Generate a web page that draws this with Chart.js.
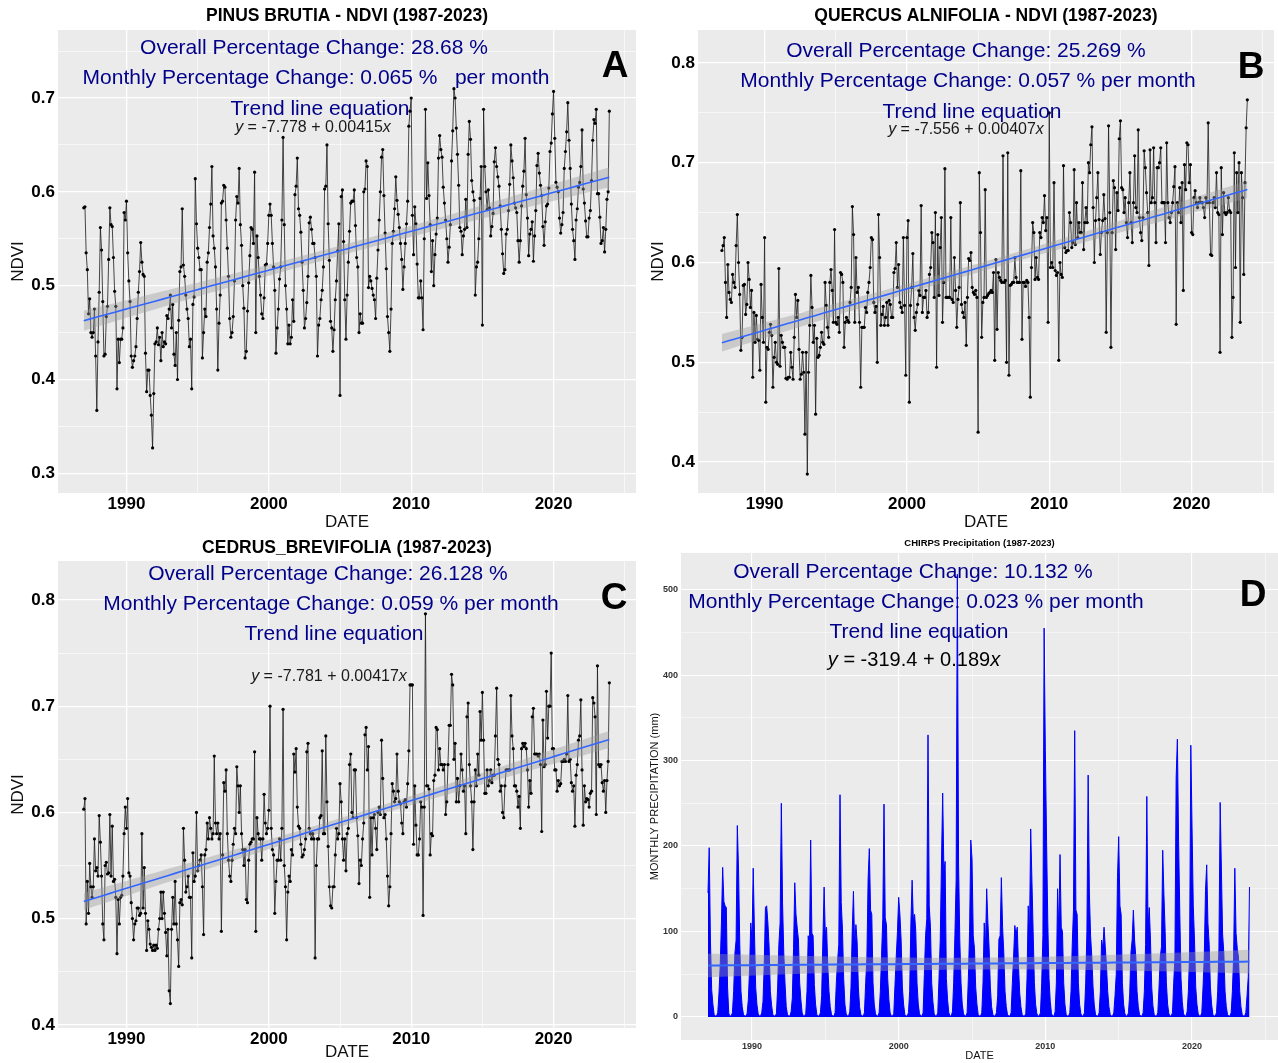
<!DOCTYPE html>
<html>
<head>
<meta charset="utf-8">
<script src="https://cdn.jsdelivr.net/npm/chart.js@4.4.1/dist/chart.umd.min.js"></script>
<style>
  body { margin: 0; background: #fff; width: 1278px; height: 1063px; position: relative; overflow: hidden; }
  canvas { position: absolute; }
</style>
</head>
<body>
<canvas id="cA" width="640" height="535" style="left:0;top:0"></canvas>
<canvas id="cB" width="638" height="535" style="left:640px;top:0"></canvas>
<canvas id="cC" width="640" height="528" style="left:0;top:535px"></canvas>
<canvas id="cD" width="638" height="528" style="left:640px;top:535px"></canvas>
<script>
// monthly series, Jan 1987 .. Dec 2023, one row per year
const startYear = 1987;

const pinusNdvi = [
  0.583,0.584,0.535,0.517,0.470,0.486,0.450,0.445,0.450,0.475,0.425,0.367,
  0.440,0.493,0.562,0.538,0.483,0.425,0.427,0.467,0.478,0.528,0.583,0.565,
  0.563,0.530,0.494,0.478,0.390,0.443,0.418,0.443,0.443,0.455,0.578,0.570,
  0.590,0.535,0.505,0.483,0.425,0.413,0.420,0.425,0.435,0.465,0.493,0.515,
  0.546,0.525,0.512,0.510,0.428,0.387,0.410,0.410,0.383,0.362,0.327,0.385,
  0.438,0.440,0.455,0.437,0.445,0.420,0.450,0.435,0.440,0.438,0.468,0.465,
  0.475,0.490,0.455,0.480,0.427,0.415,0.450,0.400,0.463,0.515,0.520,0.582,
  0.522,0.510,0.490,0.475,0.465,0.435,0.443,0.390,0.480,0.488,0.614,0.566,
  0.540,0.530,0.517,0.517,0.423,0.450,0.475,0.467,0.525,0.535,0.562,0.587,
  0.627,0.553,0.540,0.520,0.475,0.410,0.460,0.490,0.588,0.590,0.607,0.605,
  0.570,0.540,0.510,0.465,0.445,0.450,0.467,0.505,0.570,0.595,0.588,0.625,
  0.565,0.543,0.500,0.476,0.423,0.430,0.473,0.503,0.532,0.562,0.560,0.545,
  0.621,0.450,0.553,0.530,0.510,0.490,0.470,0.465,0.487,0.522,0.523,0.545,
  0.575,0.587,0.575,0.545,0.520,0.495,0.428,0.455,0.475,0.507,0.520,0.570,
  0.658,0.565,0.500,0.475,0.438,0.458,0.438,0.445,0.485,0.462,0.597,0.606,
  0.636,0.582,0.575,0.557,0.525,0.495,0.455,0.465,0.482,0.510,0.567,0.573,
  0.560,0.545,0.545,0.530,0.510,0.425,0.458,0.465,0.485,0.495,0.520,0.603,
  0.606,0.650,0.566,0.527,0.462,0.455,0.430,0.453,0.485,0.505,0.537,0.566,
  0.383,0.595,0.602,0.547,0.485,0.443,0.490,0.525,0.558,0.588,0.590,0.590,
  0.602,0.564,0.530,0.520,0.450,0.470,0.460,0.460,0.600,0.603,0.633,0.627,
  0.498,0.510,0.505,0.497,0.490,0.485,0.465,0.508,0.538,0.570,0.600,0.637,
  0.645,0.596,0.556,0.518,0.467,0.450,0.430,0.475,0.545,0.558,0.582,0.616,
  0.591,0.576,0.562,0.545,0.528,0.496,0.520,0.545,0.566,0.590,0.670,0.686,
  0.700,0.575,0.533,0.584,0.566,0.523,0.487,0.487,0.505,0.487,0.453,0.550,
  0.688,0.593,0.631,0.596,0.565,0.515,0.548,0.500,0.533,0.555,0.572,0.636,
  0.660,0.645,0.637,0.605,0.588,0.570,0.550,0.525,0.541,0.565,0.633,0.665,
  0.710,0.700,0.668,0.640,0.607,0.562,0.558,0.533,0.553,0.560,0.592,0.562,
  0.640,0.675,0.656,0.612,0.600,0.591,0.490,0.520,0.525,0.550,0.593,0.627,
  0.458,0.688,0.627,0.600,0.581,0.602,0.583,0.553,0.563,0.577,0.632,0.647,
  0.627,0.616,0.606,0.585,0.560,0.534,0.513,0.517,0.555,0.560,0.580,0.608,
  0.650,0.633,0.615,0.588,0.583,0.578,0.548,0.525,0.548,0.585,0.606,0.622,
  0.657,0.597,0.572,0.532,0.555,0.560,0.568,0.526,0.553,0.580,0.628,0.641,
  0.620,0.607,0.596,0.563,0.543,0.568,0.585,0.587,0.604,0.643,0.652,0.683,
  0.707,0.657,0.610,0.605,0.600,0.572,0.556,0.565,0.578,0.625,0.643,0.664,
  0.695,0.655,0.625,0.587,0.560,0.548,0.528,0.570,0.582,0.605,0.610,0.627,
  0.666,0.603,0.588,0.569,0.552,0.552,0.572,0.580,0.612,0.655,0.677,0.673,
  0.688,0.598,0.598,0.573,0.545,0.548,0.562,0.536,0.560,0.592,0.600,0.686
];

const quercusNdvi = [
  0.612,0.617,0.625,0.580,0.545,0.598,0.570,0.563,0.560,0.588,0.580,0.575,
  0.617,0.648,0.600,0.568,0.512,0.525,0.577,0.578,0.548,0.558,0.600,0.583,
  0.555,0.572,0.485,0.550,0.520,0.547,0.523,0.522,0.492,0.578,0.545,0.520,
  0.625,0.460,0.515,0.513,0.530,0.538,0.527,0.475,0.505,0.520,0.500,0.498,
  0.594,0.496,0.527,0.520,0.515,0.515,0.484,0.483,0.485,0.485,0.510,0.495,
  0.483,0.525,0.568,0.545,0.562,0.513,0.483,0.488,0.510,0.490,0.428,0.510,
  0.388,0.490,0.537,0.587,0.555,0.520,0.537,0.448,0.524,0.505,0.507,0.515,
  0.530,0.520,0.518,0.580,0.557,0.535,0.525,0.580,0.593,0.572,0.540,0.633,
  0.540,0.538,0.545,0.530,0.590,0.588,0.580,0.515,0.540,0.545,0.542,0.540,
  0.560,0.575,0.656,0.628,0.540,0.605,0.570,0.575,0.540,0.475,0.535,0.535,
  0.535,0.555,0.550,0.570,0.580,0.595,0.625,0.623,0.560,0.550,0.556,0.500,
  0.648,0.605,0.537,0.548,0.556,0.537,0.545,0.560,0.537,0.562,0.558,0.545,
  0.545,0.590,0.594,0.620,0.575,0.598,0.560,0.555,0.550,0.625,0.557,0.487,
  0.625,0.642,0.460,0.557,0.575,0.609,0.545,0.532,0.550,0.558,0.572,0.567,
  0.657,0.550,0.565,0.565,0.572,0.545,0.550,0.588,0.595,0.630,0.620,0.565,
  0.650,0.495,0.628,0.567,0.615,0.645,0.540,0.580,0.694,0.565,0.565,0.565,
  0.565,0.645,0.563,0.560,0.605,0.572,0.535,0.563,0.575,0.660,0.558,0.550,
  0.545,0.560,0.517,0.565,0.604,0.602,0.610,0.575,0.570,0.568,0.572,0.565,
  0.430,0.690,0.630,0.525,0.560,0.565,0.673,0.565,0.567,0.569,0.570,0.572,
  0.570,0.590,0.502,0.603,0.533,0.590,0.585,0.582,0.580,0.707,0.580,0.582,
  0.500,0.710,0.487,0.577,0.578,0.580,0.580,0.605,0.585,0.580,0.580,0.580,
  0.692,0.523,0.580,0.580,0.576,0.582,0.580,0.545,0.465,0.595,0.640,0.630,
  0.583,0.605,0.585,0.583,0.630,0.625,0.645,0.640,0.667,0.632,0.645,0.540,
  0.750,0.595,0.600,0.595,0.680,0.592,0.587,0.590,0.502,0.600,0.588,0.585,
  0.697,0.615,0.610,0.612,0.612,0.650,0.640,0.615,0.620,0.693,0.618,0.660,
  0.625,0.640,0.630,0.630,0.680,0.613,0.640,0.655,0.640,0.700,0.690,0.718,
  0.736,0.655,0.600,0.642,0.665,0.690,0.643,0.608,0.630,0.642,0.668,0.644,
  0.530,0.630,0.737,0.650,0.515,0.630,0.682,0.675,0.613,0.670,0.652,0.724,
  0.742,0.675,0.673,0.650,0.665,0.640,0.625,0.660,0.690,0.640,0.620,0.660,
  0.707,0.655,0.650,0.733,0.645,0.630,0.622,0.645,0.712,0.695,0.670,0.650,
  0.597,0.713,0.660,0.665,0.715,0.660,0.620,0.695,0.695,0.700,0.715,0.660,
  0.660,0.660,0.620,0.720,0.660,0.645,0.640,0.650,0.660,0.676,0.696,0.538,
  0.660,0.650,0.675,0.640,0.680,0.572,0.698,0.673,0.720,0.718,0.680,0.698,
  0.630,0.628,0.665,0.672,0.660,0.655,0.660,0.665,0.660,0.660,0.655,0.645,
  0.665,0.660,0.740,0.660,0.608,0.607,0.660,0.665,0.655,0.690,0.650,0.648,
  0.510,0.695,0.628,0.670,0.650,0.648,0.650,0.665,0.652,0.650,0.525,0.565,
  0.710,0.595,0.690,0.650,0.700,0.540,0.690,0.665,0.588,0.680,0.735,0.763
];

const cedrusNdvi = [
  0.603,0.613,0.495,0.535,0.505,0.552,0.530,0.520,0.530,0.575,0.545,0.548,
  0.540,0.597,0.572,0.540,0.495,0.480,0.550,0.553,0.542,0.543,0.598,0.540,
  0.587,0.535,0.537,0.520,0.467,0.518,0.495,0.520,0.522,0.540,0.580,0.605,
  0.585,0.613,0.543,0.540,0.515,0.500,0.480,0.495,0.498,0.510,0.510,0.503,
  0.505,0.580,0.510,0.548,0.505,0.470,0.498,0.490,0.476,0.473,0.470,0.475,
  0.470,0.475,0.472,0.490,0.500,0.525,0.500,0.525,0.505,0.487,0.465,0.490,
  0.432,0.420,0.490,0.520,0.495,0.535,0.495,0.480,0.455,0.515,0.518,0.513,
  0.585,0.555,0.525,0.530,0.540,0.520,0.520,0.463,0.562,0.535,0.540,0.600,
  0.545,0.550,0.555,0.560,0.530,0.485,0.560,0.565,0.590,0.575,0.595,0.585,
  0.575,0.580,0.653,0.590,0.580,0.590,0.575,0.580,0.488,0.560,0.628,0.620,
  0.640,0.580,0.555,0.540,0.535,0.555,0.570,0.585,0.580,0.643,0.625,0.600,
  0.625,0.580,0.565,0.550,0.565,0.518,0.515,0.555,0.570,0.572,0.575,0.575,
  0.657,0.488,0.595,0.580,0.575,0.575,0.555,0.575,0.617,0.590,0.580,0.585,
  0.602,0.700,0.585,0.565,0.560,0.505,0.535,0.555,0.555,0.575,0.555,0.585,
  0.697,0.550,0.530,0.480,0.525,0.540,0.535,0.565,0.560,0.655,0.638,0.660,
  0.605,0.587,0.585,0.570,0.558,0.560,0.565,0.575,0.657,0.665,0.585,0.580,
  0.575,0.580,0.575,0.463,0.550,0.575,0.575,0.595,0.597,0.658,0.580,0.580,
  0.672,0.610,0.568,0.530,0.512,0.510,0.530,0.530,0.560,0.585,0.575,0.580,
  0.627,0.610,0.575,0.555,0.575,0.545,0.580,0.585,0.645,0.655,0.600,0.595,
  0.640,0.640,0.595,0.578,0.533,0.555,0.550,0.575,0.590,0.673,0.680,0.640,
  0.662,0.520,0.595,0.560,0.595,0.598,0.585,0.565,0.600,0.605,0.598,0.668,
  0.632,0.595,0.598,0.575,0.540,0.512,0.530,0.580,0.627,0.620,0.610,0.613,
  0.655,0.620,0.610,0.608,0.590,0.580,0.610,0.612,0.605,0.627,0.658,0.720,
  0.720,0.720,0.570,0.625,0.588,0.560,0.560,0.575,0.610,0.605,0.503,0.605,
  0.787,0.625,0.625,0.622,0.560,0.580,0.578,0.630,0.635,0.680,0.678,0.640,
  0.660,0.645,0.645,0.640,0.645,0.598,0.610,0.645,0.682,0.682,0.730,0.720,
  0.650,0.665,0.610,0.632,0.610,0.625,0.655,0.640,0.620,0.625,0.580,0.690,
  0.703,0.645,0.625,0.610,0.565,0.610,0.640,0.625,0.655,0.635,0.695,0.668,
  0.713,0.668,0.618,0.618,0.640,0.625,0.630,0.640,0.628,0.635,0.635,0.672,
  0.717,0.650,0.645,0.620,0.625,0.600,0.595,0.625,0.640,0.640,0.640,0.640,
  0.710,0.672,0.660,0.625,0.625,0.620,0.605,0.615,0.585,0.660,0.665,0.662,
  0.665,0.660,0.640,0.605,0.630,0.618,0.690,0.698,0.655,0.655,0.655,0.653,
  0.655,0.645,0.582,0.687,0.643,0.645,0.714,0.670,0.700,0.700,0.750,0.660,
  0.660,0.640,0.640,0.620,0.630,0.625,0.627,0.648,0.648,0.650,0.648,0.655,
  0.710,0.648,0.650,0.628,0.620,0.625,0.587,0.635,0.645,0.668,0.672,0.706,
  0.640,0.588,0.625,0.610,0.613,0.612,0.605,0.618,0.620,0.708,0.703,0.690,
  0.598,0.738,0.645,0.643,0.645,0.628,0.620,0.630,0.600,0.630,0.648,0.722
];

const chirpsPrecip = [
  145,198,90,32,15,3,1,1,5,28,60,110,
  175,135,130,128,35,4,1,1,5,30,74,90,
  224,172,85,30,12,3,1,1,4,20,55,110,
  88,174,100,35,15,4,1,1,5,18,60,128,
  130,110,82,30,14,3,1,1,4,35,85,110,
  250,133,75,40,12,3,1,1,6,22,80,157,
  120,104,90,40,20,5,1,1,4,30,95,80,
  207,98,95,38,15,3,1,1,5,25,90,152,
  95,105,60,30,12,3,1,1,5,40,65,85,
  260,134,103,45,15,4,1,1,6,35,100,147,
  80,108,88,35,12,3,1,1,5,40,70,162,
  197,125,120,40,15,4,1,1,5,30,72,115,
  249,116,108,45,20,5,1,1,4,38,70,100,
  140,120,90,35,15,3,1,1,5,30,110,160,
  113,120,100,40,15,4,1,1,5,50,95,115,
  330,130,105,40,18,4,1,1,5,45,90,180,
  262,170,182,45,20,5,1,1,6,40,95,160,
  518,179,90,40,15,4,1,1,5,45,100,207,
  185,95,80,35,15,3,1,1,5,40,110,80,
  150,110,80,35,12,3,1,1,5,25,91,95,
  163,105,75,30,12,3,1,1,5,40,70,107,
  95,105,60,28,12,3,1,1,4,45,130,95,
  220,160,100,40,15,4,1,1,5,40,95,455,
  312,205,110,45,18,4,1,1,6,40,150,100,
  190,105,100,40,15,3,1,1,5,30,85,125,
  335,125,120,40,15,4,1,1,5,40,100,283,
  145,95,70,35,14,3,1,1,5,30,90,80,
  105,82,60,30,12,3,1,1,5,25,50,163,
  211,130,120,40,15,4,1,1,5,27,75,90,
  125,90,70,30,12,3,1,1,5,30,85,258,
  105,128,90,35,13,3,1,1,5,35,70,82,
  195,143,100,40,15,4,1,1,5,40,70,280,
  325,205,120,45,18,4,1,1,6,30,75,318,
  222,130,90,35,15,4,1,1,5,35,70,148,
  178,110,85,35,15,3,1,1,5,30,80,251,
  173,97,75,30,12,3,1,1,5,30,70,174,
  98,80,70,30,12,3,1,1,5,25,47,152
];

const FONT = "'Liberation Sans', Arial, Helvetica, sans-serif";
const NOTE_BLUE = '#00008B';

function monthlyPoints(values) {
  return values.map((v, i) => ({ x: startYear + i / 12, y: v }));
}

// least squares line with 95% confidence band (like geom_smooth(method = "lm"))
function trendBand(pts, steps) {
  const n = pts.length;
  const mx = pts.reduce((s, p) => s + p.x, 0) / n;
  const my = pts.reduce((s, p) => s + p.y, 0) / n;
  let sxx = 0, sxy = 0;
  pts.forEach(p => { sxx += (p.x - mx) ** 2; sxy += (p.x - mx) * (p.y - my); });
  const b = sxy / sxx, a = my - b * mx;
  let sse = 0;
  pts.forEach(p => { sse += (p.y - a - b * p.x) ** 2; });
  const s = Math.sqrt(sse / (n - 2));
  const t = 1.9654;
  const x0 = pts[0].x, x1 = pts[n - 1].x;
  const line = [], upper = [], lower = [];
  for (let k = 0; k <= steps; k++) {
    const x = x0 + (x1 - x0) * k / steps;
    const yh = a + b * x;
    const se = s * Math.sqrt(1 / n + (x - mx) ** 2 / sxx);
    line.push({ x, y: yh });
    upper.push({ x, y: yh + t * se });
    lower.push({ x, y: yh - t * se });
  }
  return { line, upper, lower };
}

function isMajor(v, step) {
  return Math.abs(Math.round(v / step) * step - v) < 1e-7;
}

function drawNotes(ctx, notes) {
  notes.forEach(nt => {
    const parts = nt.parts || [{ t: nt.text, i: false }];
    const weight = nt.bold ? 'bold ' : '';
    let total = 0;
    parts.forEach(p => {
      ctx.font = (p.i ? 'italic ' : '') + weight + nt.size + 'px ' + FONT;
      p.w = ctx.measureText(p.t).width;
      total += p.w;
    });
    let x = nt.x - total / 2;
    ctx.fillStyle = nt.color;
    ctx.textBaseline = 'middle';
    ctx.textAlign = 'left';
    parts.forEach(p => {
      ctx.font = (p.i ? 'italic ' : '') + weight + nt.size + 'px ' + FONT;
      ctx.fillText(p.t, x, nt.y);
      x += p.w;
    });
  });
}

function panel(id, o) {
  const pts = monthlyPoints(o.values);
  const fit = trendBand(pts, 80);
  const dataSet = o.area ? {
    data: pts, borderColor: '#0000ff', backgroundColor: '#0000ff', borderWidth: 1,
    pointRadius: 0, fill: 'origin', tension: 0
  } : {
    data: pts, borderColor: '#1a1a1a', borderWidth: 0.8, pointRadius: 1.6,
    pointBackgroundColor: '#000', pointBorderWidth: 0, fill: false, tension: 0
  };
  const tickFont = { family: FONT, size: o.tickSize, weight: 'bold' };
  const titleFont = { family: FONT, size: o.axisTitleSize };
  new Chart(document.getElementById(id), {
    type: 'line',
    data: {
      datasets: [
        { data: fit.line, borderColor: '#3366FF', borderWidth: o.trendWidth, pointRadius: 0, fill: false },
        { data: fit.upper, borderColor: 'rgba(0,0,0,0)', pointRadius: 0, backgroundColor: 'rgba(153,153,153,0.4)', fill: '+1' },
        { data: fit.lower, borderColor: 'rgba(0,0,0,0)', pointRadius: 0, fill: false },
        dataSet
      ]
    },
    options: {
      responsive: false,
      animation: false,
      events: [],
      layout: { padding: 0 },
      plugins: {
        legend: { display: false },
        tooltip: { enabled: false },
        title: {
          display: true, text: o.title, fullSize: false, color: '#000',
          font: { family: FONT, size: o.titleSize, weight: 'bold' }, padding: o.titlePad
        }
      },
      scales: {
        x: {
          type: 'linear', min: o.xMin, max: o.xMax,
          afterFit: s => { s.height = o.xAxisH; },
          ticks: {
            stepSize: 5, includeBounds: false, autoSkip: false, maxRotation: 0, maxTicksLimit: 30,
            padding: o.xTickPad, color: o.tickColor, font: tickFont,
            callback: v => isMajor(v, 10) ? String(Math.round(v)) : ''
          },
          grid: {
            color: '#ffffff', drawTicks: false,
            lineWidth: c => (c.tick && isMajor(c.tick.value, 10)) ? o.majorW : o.minorW
          },
          border: { display: false },
          title: { display: true, text: 'DATE', color: '#111', font: titleFont, padding: { top: 0, bottom: o.xTitlePad } }
        },
        y: {
          min: o.yMin, max: o.yMax,
          afterFit: s => { s.width = o.yAxisW; },
          ticks: {
            stepSize: o.yStep / 2, includeBounds: false, autoSkip: false, maxTicksLimit: 30,
            padding: 3, color: o.tickColor, font: tickFont,
            callback: v => isMajor(v, o.yStep) ? v.toFixed(o.yDigits) : ''
          },
          grid: {
            color: '#ffffff', drawTicks: false,
            lineWidth: c => (c.tick && isMajor(c.tick.value, o.yStep)) ? o.majorW : o.minorW
          },
          border: { display: false },
          title: { display: true, text: o.yTitle, color: '#111', font: titleFont, padding: { top: o.yTitlePad, bottom: 0 } }
        }
      }
    },
    plugins: [{
      id: 'panelExtras' + id,
      beforeDraw(chart) {
        const a = chart.chartArea, ctx = chart.ctx;
        ctx.save();
        ctx.fillStyle = '#EBEBEB';
        ctx.fillRect(a.left, a.top, a.right - a.left, a.bottom - a.top);
        ctx.restore();
      },
      afterDraw(chart) {
        const ctx = chart.ctx;
        ctx.save();
        drawNotes(ctx, o.notes);
        ctx.restore();
      }
    }]
  });
}

const ndviCommon = {
  tickSize: 17, axisTitleSize: 17, titleSize: 17.5, tickColor: '#000',
  xMin: 1985.19, xMax: 2025.79, yAxisW: 58, yStep: 0.1, yDigits: 1,
  yTitle: 'NDVI', yTitlePad: 8, xTickPad: 1, xTitlePad: 2,
  majorW: 1.3, minorW: 0.6, trendWidth: 1.6
};

panel('cA', Object.assign({}, ndviCommon, {
  values: pinusNdvi,
  title: 'PINUS BRUTIA - NDVI (1987-2023)', titlePad: { top: 5.5, bottom: 3.5 },
  yMin: 0.279, yMax: 0.7725, xAxisH: 42,
  notes: [
    { text: 'Overall Percentage Change: 28.68 %', x: 314, y: 48, size: 21, color: NOTE_BLUE },
    { text: 'Monthly Percentage Change: 0.065 %   per month', x: 316, y: 78, size: 21, color: NOTE_BLUE },
    { text: 'Trend line equation', x: 320, y: 109, size: 21, color: NOTE_BLUE },
    { parts: [{ t: 'y', i: true }, { t: ' = -7.778 + 0.00415', i: false }, { t: 'x', i: true }], x: 313, y: 128, size: 16, color: '#1a1a1a' },
    { text: 'A', x: 615, y: 67, size: 37, bold: true, color: '#000' }
  ]
}));

panel('cB', Object.assign({}, ndviCommon, {
  values: quercusNdvi,
  title: 'QUERCUS ALNIFOLIA - NDVI (1987-2023)', titlePad: { top: 5.5, bottom: 3.5 },
  xMin: 1985.32, yMin: 0.369, yMax: 0.833, xAxisH: 42,
  notes: [
    { text: 'Overall Percentage Change: 25.269 %', x: 326, y: 51, size: 21, color: NOTE_BLUE },
    { text: 'Monthly Percentage Change: 0.057 % per month', x: 328, y: 81, size: 21, color: NOTE_BLUE },
    { text: 'Trend line equation', x: 332, y: 112, size: 21, color: NOTE_BLUE },
    { parts: [{ t: 'y', i: true }, { t: ' = -7.556 + 0.00407', i: false }, { t: 'x', i: true }], x: 326, y: 130, size: 16, color: '#1a1a1a' },
    { text: 'B', x: 611, y: 68, size: 37, bold: true, color: '#000' }
  ]
}));

panel('cC', Object.assign({}, ndviCommon, {
  values: cedrusNdvi,
  title: 'CEDRUS_BREVIFOLIA (1987-2023)', titlePad: { top: 2.5, bottom: 2.5 },
  yMin: 0.397, yMax: 0.8367, xAxisH: 35, xTitlePad: 0,
  notes: [
    { text: 'Overall Percentage Change: 26.128 %', x: 328, y: 39, size: 21, color: NOTE_BLUE },
    { text: 'Monthly Percentage Change: 0.059 % per month', x: 331, y: 69, size: 21, color: NOTE_BLUE },
    { text: 'Trend line equation', x: 334, y: 99, size: 21, color: NOTE_BLUE },
    { parts: [{ t: 'y', i: true }, { t: ' = -7.781 + 0.00417', i: false }, { t: 'x', i: true }], x: 329, y: 142, size: 16, color: '#1a1a1a' },
    { text: 'C', x: 614, y: 64, size: 37, bold: true, color: '#000' }
  ]
}));

panel('cD', {
  values: chirpsPrecip, area: true,
  title: 'CHIRPS Precipitation (1987-2023)', titleSize: 9.5, titlePad: { top: 3, bottom: 3.5 },
  tickSize: 9, axisTitleSize: 11, tickColor: '#333',
  xMin: 1985.16, xMax: 2025.86, yMin: -27, yMax: 543, yStep: 100, yDigits: 0,
  yAxisW: 41, xAxisH: 23, yTitle: 'MONTHLY PRECIPITATION (mm)', yTitlePad: 8,
  xTickPad: 1.5, xTitlePad: 0, majorW: 1.1, minorW: 0.5, trendWidth: 2,
  notes: [
    { text: 'Overall Percentage Change: 10.132 %', x: 273, y: 37, size: 21, color: NOTE_BLUE },
    { text: 'Monthly Percentage Change: 0.023 % per month', x: 276, y: 67, size: 21, color: NOTE_BLUE },
    { text: 'Trend line equation', x: 279, y: 97, size: 21, color: NOTE_BLUE },
    { parts: [{ t: 'y', i: true }, { t: ' = -319.4 + 0.189', i: false }, { t: 'x', i: true }], x: 274, y: 125, size: 20, color: '#000' },
    { text: 'D', x: 613, y: 61, size: 37, bold: true, color: '#000' }
  ]
});
</script>
</body>
</html>
